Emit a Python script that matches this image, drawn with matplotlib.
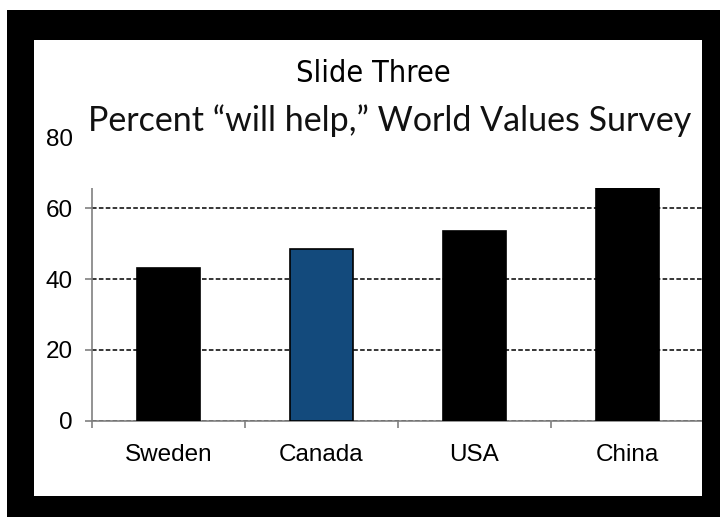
import matplotlib
matplotlib.use("Agg")
import matplotlib.pyplot as plt
from matplotlib.patches import Rectangle

# data
countries = ["Sweden", "Canada", "USA", "China"]
will_help = [43.3, 48.5, 53.7, 66]
bar_colors = ["black", "#134a7c", "black", "black"]
y_ticks = [0, 20, 40, 60, 80]

W, H = 720, 517
fig = plt.figure(figsize=(7.2, 5.17), dpi=100)
fig.patch.set_facecolor("white")


def px_rect(x0, y0, x1, y1, color, z):
    # rectangle in pixel coords measured from top-left
    r = Rectangle((x0 / W, 1 - y1 / H), (x1 - x0) / W, (y1 - y0) / H,
                  transform=fig.transFigure, facecolor=color,
                  edgecolor="none", zorder=z)
    fig.add_artist(r)


ax = fig.add_axes([92 / W, (H - 420.7) / H, 610 / W, 283 / H])
x = list(range(len(countries)))
ax.bar(x, will_help, width=0.41, color=bar_colors, edgecolor="black",
       linewidth=1.2, zorder=3)

ax.set_xlim(-0.5, 3.487)
ax.set_ylim(0, 80)
ax.set_yticks(y_ticks)
ax.yaxis.grid(True, color="black", linestyle=(0, (3, 1.5)), linewidth=1.1)
ax.set_axisbelow(True)

ax.set_xticks([-0.5, 0.5, 1.5, 2.5])
ax.set_xticklabels([])
ax.set_xticks(x, minor=True)
ax.set_xticklabels(countries, minor=True)
ax.tick_params(axis="x", which="major", length=5, color="#808080", width=1.2)
ax.tick_params(axis="x", which="minor", length=0, pad=17, labelsize=17.5)
ax.tick_params(axis="y", length=5, color="#808080", width=1.2, pad=9,
               labelsize=17.5)
for lbl in ax.get_xticklabels(minor=True) + ax.get_yticklabels():
    lbl.set_fontfamily("Liberation Sans")

for s in ["top", "right"]:
    ax.spines[s].set_visible(False)
for s in ["left", "bottom"]:
    ax.spines[s].set_color("#808080")
    ax.spines[s].set_linewidth(1.2)

# white title box laid over the top of the chart
px_rect(84, 38, 702, 188, "white", 5)

fig.text(373 / W, 1 - 74 / H, "Slide Three", ha="center", va="center",
         fontsize=22, family="DejaVu Sans", fontstretch="condensed",
         color="black", zorder=7)
fig.text(390 / W, 1 - 121 / H, "Percent \u201cwill help,\u201d World Values Survey",
         ha="center", va="center", fontsize=24.5,
         family=["Lato", "DejaVu Sans"], color="#111111", zorder=7)

# black slide frame
px_rect(7, 10, W, 40, "black", 10)
px_rect(7, 10, 34, H, "black", 10)
px_rect(702, 10, W, H, "black", 10)
px_rect(7, 496, W, H, "black", 10)

fig.savefig("out.png", dpi=100)
